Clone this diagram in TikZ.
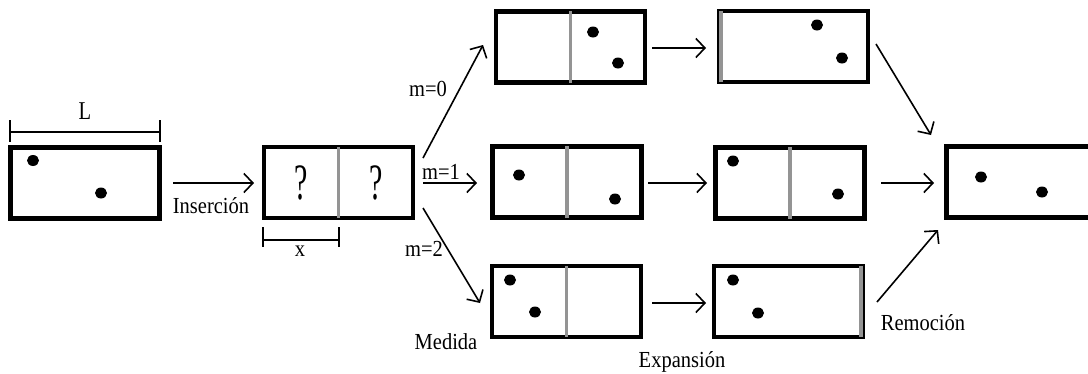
\documentclass[tikz,border=0pt]{standalone}
\usepackage{fontspec}
\setmainfont{Liberation Serif}
\usetikzlibrary{arrows.meta}
\newcommand{\lbl}[1]{\scalebox{1}[1.12]{#1}}
\newcommand{\qm}{\scalebox{1}[1.7]{?}}
\begin{document}
\begin{tikzpicture}[x=1pt,y=-1pt,
  box/.style={draw,line width=4.4pt,minimum width=149pt,minimum height=71pt,inner sep=0pt},
  divider/.style={draw=black!42,line width=3.2pt},
  wall/.style={draw=black!42,line width=3.6pt},
  flow/.style={line width=1.6pt,-{Straight Barb[length=9pt,width=19pt,line width=1.6pt]}},
  dim/.style={line width=1.6pt},
  txt/.style={font=\fontsize{20.5}{24}\selectfont,inner sep=0pt},
  qtxt/.style={font=\fontsize{30}{32}\selectfont,inner sep=0pt}]
\useasboundingbox (0,0) rectangle (1088,373);
\clip (0,0) rectangle (1088,373);

% boxes
\node[box] (b1) at (85,183) {};
\node[box] (b2) at (338.5,182.5) {};
\node[box] (a0) at (570.5,47) {};
\node[box] (c0) at (793.5,46.5) {};
\node[box] (a1) at (567,182) {};
\node[box] (c1) at (790,183) {};
\node[box] (a2) at (566.5,301.5) {};
\node[box] (c2) at (788.5,301.5) {};
\node[box] (f)  at (1021,182) {};

% partitions
\draw[divider] ([yshift=-2pt]b2.north) -- ([yshift=2pt]b2.south);
\draw[divider] ([yshift=-2pt]a0.north) -- ([yshift=2pt]a0.south);
\draw[divider] ([yshift=-2pt]a1.north) -- ([yshift=2pt]a1.south);
\draw[divider] ([yshift=-2pt]c1.north) -- ([yshift=2pt]c1.south);
\draw[divider] ([yshift=-2pt]a2.north) -- ([yshift=2pt]a2.south);
\draw[wall] ([xshift=4pt,yshift=-2pt]c0.north west) -- ([xshift=4pt,yshift=2pt]c0.south west);
\draw[wall] ([xshift=-4pt,yshift=-2pt]c2.north east) -- ([xshift=-4pt,yshift=2pt]c2.south east);

% particles
\foreach \p in {(33,160.5),(101,193),(593,32),(618,63),(817,25),(842,58),
                (519,175),(615,199),(733,161),(838,194),(510,280),(535,312),
                (733,280),(758,313),(981,177),(1042,192)}
  \fill \p ellipse [x radius=6pt,y radius=5.5pt];

% unknown contents
\node[qtxt] (q1) at (301,183) {\qm};
\node[qtxt] (q2) at (376,183) {\qm};

% dimensions
\coordinate (L1) at (10,132); \coordinate (L2) at (160,132);
\draw[dim] (L1) -- (L2);
\draw[dim] (10,120) -- (10,142);
\draw[dim] (160,120) -- (160,142);
\node[txt] (Ltxt) at (85,111) {\scalebox{1}[1.25]{L}};
\coordinate (x1) at (263,240); \coordinate (x2) at (339,240);
\draw[dim] (x1) -- (x2);
\draw[dim] (263,227) -- (263,247);
\draw[dim] (339,227) -- (339,247);
\node[txt] (xtxt) at (300,251) {\lbl{x}};

% arrow end points
\coordinate (i1) at (173,183); \coordinate (i2) at (254,183);
\coordinate (m0s) at (423,158); \coordinate (m0e) at (483,45);
\coordinate (m1s) at (423,183); \coordinate (m1e) at (477,183);
\coordinate (m2s) at (423,208); \coordinate (m2e) at (480,303);
\coordinate (e0s) at (652,48);  \coordinate (e0e) at (706,48);
\coordinate (e1s) at (648,183); \coordinate (e1e) at (707,183);
\coordinate (e2s) at (652,303); \coordinate (e2e) at (706,303);
\coordinate (r0s) at (876,44);  \coordinate (r0e) at (931,135);
\coordinate (r1s) at (881,183); \coordinate (r1e) at (934,183);
\coordinate (r2s) at (877,302); \coordinate (r2e) at (938,230);

\draw[flow] (i1) -- (i2);
\draw[flow] (m0s) -- (m0e);
\draw[flow] (m1s) -- (m1e);
\draw[flow] (m2s) -- (m2e);
\draw[flow] (e0s) -- (e0e);
\draw[flow] (e1s) -- (e1e);
\draw[flow] (e2s) -- (e2e);
\draw[flow] (r0s) -- (r0e);
\draw[flow] (r1s) -- (r1e);
\draw[flow] (r2s) -- (r2e);

% labels
\node[txt] (ins) at (211,206) {\lbl{Inserción}};
\node[txt] (lm0) at (428,89) {\lbl{m=0}};
\node[txt] (lm1) at (441,172) {\lbl{m=1}};
\node[txt] (lm2) at (424,249) {\lbl{m=2}};
\node[txt] (med) at (446,342) {\lbl{Medida}};
\node[txt] (exp) at (682,362) {\lbl{Expansión}};
\node[txt] (rem) at (923,323) {\lbl{Remoción}};
\end{tikzpicture}
\end{document}
